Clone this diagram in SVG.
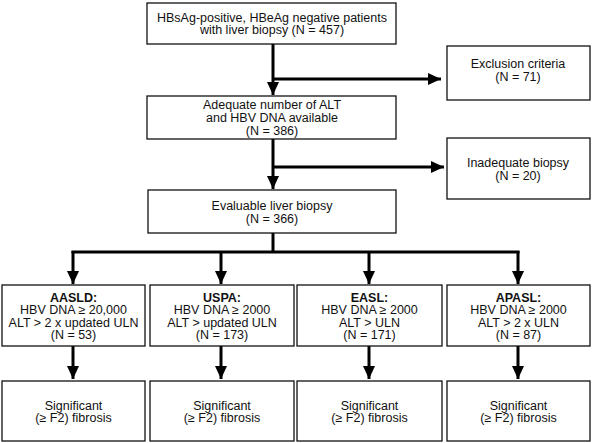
<svg xmlns="http://www.w3.org/2000/svg" width="592" height="443" viewBox="0 0 592 443">
<style>
.box{fill:#fff;stroke:#111;stroke-width:1.3}
.t{font-family:"Liberation Sans",Arial,sans-serif;font-size:12.5px;fill:#111;text-anchor:middle}
.b{font-weight:bold}
.c{fill:none;stroke:#000;stroke-width:3}
</style>
<defs>
<marker id="ah" markerUnits="userSpaceOnUse" markerWidth="13" markerHeight="12" refX="13" refY="6" orient="auto">
<path d="M0,0 L13,6 L0,12 z" fill="#000"/>
</marker>
</defs>
<rect width="592" height="443" fill="#fff"/>
<g id="connectors">
<path class="c" d="M273,44 V95" marker-end="url(#ah)"/>
<path class="c" d="M273,79 H441" marker-end="url(#ah)"/>
<path class="c" d="M273,139 V189" marker-end="url(#ah)"/>
<path class="c" d="M273,167 H444" marker-end="url(#ah)"/>
<path class="c" d="M273,233 V252"/>
<path class="c" d="M71.5,252 H519.5"/>
<path class="c" d="M73,251 V284" marker-end="url(#ah)"/>
<path class="c" d="M221,251 V284" marker-end="url(#ah)"/>
<path class="c" d="M369,251 V284" marker-end="url(#ah)"/>
<path class="c" d="M518,251 V284" marker-end="url(#ah)"/>
<path class="c" d="M73,346 V379" marker-end="url(#ah)"/>
<path class="c" d="M221,346 V379" marker-end="url(#ah)"/>
<path class="c" d="M369,346 V379" marker-end="url(#ah)"/>
<path class="c" d="M518,346 V379" marker-end="url(#ah)"/>
</g>
<g id="n1"><rect class="box" x="147" y="3" width="249" height="41"/>
<text class="t" x="272" y="21.5">HBsAg-positive, HBeAg negative patients</text>
<text class="t" x="272" y="34">with liver biopsy (N = 457)</text></g>
<g id="n2"><rect class="box" x="447" y="46" width="143" height="54"/>
<text class="t" x="518" y="68">Exclusion criteria</text>
<text class="t" x="518" y="80.5">(N = 71)</text></g>
<g id="n3"><rect class="box" x="147" y="96" width="249" height="43"/>
<text class="t" x="272" y="108.5">Adequate number of ALT</text>
<text class="t" x="272" y="121.5">and HBV DNA available</text>
<text class="t" x="272" y="134.5">(N = 386)</text></g>
<g id="n4"><rect class="box" x="447" y="138" width="143" height="61"/>
<text class="t" x="518" y="167">Inadequate biopsy</text>
<text class="t" x="518" y="179.5">(N = 20)</text></g>
<g id="n5"><rect class="box" x="148" y="190" width="248" height="43"/>
<text class="t" x="272" y="210">Evaluable liver biopsy</text>
<text class="t" x="272" y="222.5">(N = 366)</text></g>
<g id="n6"><rect class="box" x="2" y="285" width="143" height="61"/>
<text class="t b" x="73.5" y="301.5">AASLD:</text>
<text class="t" x="73.5" y="314">HBV DNA ≥ 20,000</text>
<text class="t" x="73.5" y="326.5">ALT &gt; 2 x updated ULN</text>
<text class="t" x="73.5" y="339">(N = 53)</text></g>
<g id="n7"><rect class="box" x="150" y="285" width="144" height="61"/>
<text class="t b" x="222" y="301.5">USPA:</text>
<text class="t" x="222" y="314">HBV DNA ≥ 2000</text>
<text class="t" x="222" y="326.5">ALT &gt; updated ULN</text>
<text class="t" x="222" y="339">(N = 173)</text></g>
<g id="n8"><rect class="box" x="297" y="285" width="145" height="61"/>
<text class="t b" x="369.5" y="301.5">EASL:</text>
<text class="t" x="369.5" y="314">HBV DNA ≥ 2000</text>
<text class="t" x="369.5" y="326.5">ALT &gt; ULN</text>
<text class="t" x="369.5" y="339">(N = 171)</text></g>
<g id="n9"><rect class="box" x="447" y="285" width="143" height="61"/>
<text class="t b" x="518.5" y="301.5">APASL:</text>
<text class="t" x="518.5" y="314">HBV DNA ≥ 2000</text>
<text class="t" x="518.5" y="326.5">ALT &gt; 2 x ULN</text>
<text class="t" x="518.5" y="339">(N = 87)</text></g>
<g id="n10"><rect class="box" x="2" y="381" width="143" height="60"/>
<text class="t" x="73.5" y="409.5">Significant</text>
<text class="t" x="73.5" y="422">(≥ F2) fibrosis</text></g>
<g id="n11"><rect class="box" x="150" y="381" width="144" height="60"/>
<text class="t" x="222" y="409.5">Significant</text>
<text class="t" x="222" y="422">(≥ F2) fibrosis</text></g>
<g id="n12"><rect class="box" x="297" y="381" width="145" height="60"/>
<text class="t" x="369.5" y="409.5">Significant</text>
<text class="t" x="369.5" y="422">(≥ F2) fibrosis</text></g>
<g id="n13"><rect class="box" x="447" y="381" width="143" height="60"/>
<text class="t" x="518.5" y="409.5">Significant</text>
<text class="t" x="518.5" y="422">(≥ F2) fibrosis</text></g>
</svg>
